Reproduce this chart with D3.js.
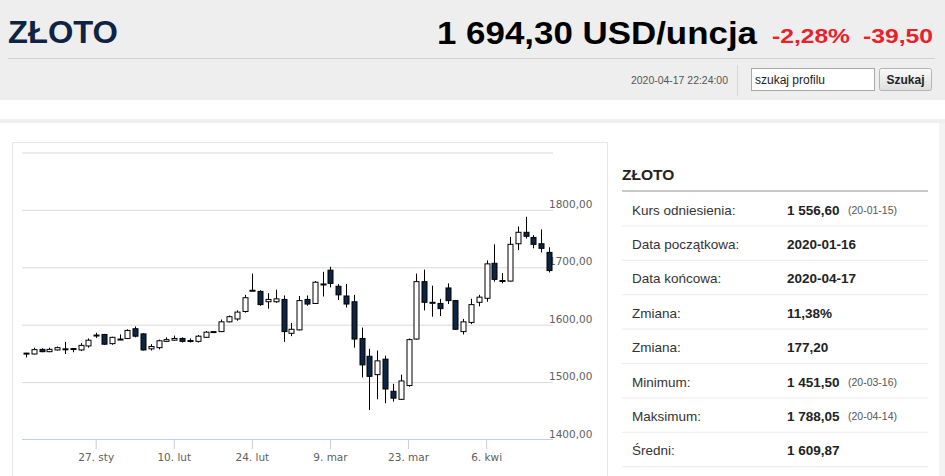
<!DOCTYPE html>
<html>
<head>
<meta charset="utf-8">
<script src="https://cdn.jsdelivr.net/npm/d3@7"></script>
<style>
  body { margin: 0; background: #fff; }
  svg { display: block; font-family: "Liberation Sans", Arial, sans-serif; }
</style>
</head>
<body>
<svg id="page" width="945" height="476"></svg>
<script>
// trading days shown on the chart (Good Friday missing)
const dates = [
  "2020-01-14","2020-01-15","2020-01-16","2020-01-17","2020-01-20","2020-01-21","2020-01-22","2020-01-23","2020-01-24",
  "2020-01-27","2020-01-28","2020-01-29","2020-01-30","2020-01-31",
  "2020-02-03","2020-02-04","2020-02-05","2020-02-06","2020-02-07",
  "2020-02-10","2020-02-11","2020-02-12","2020-02-13","2020-02-14",
  "2020-02-17","2020-02-18","2020-02-19","2020-02-20","2020-02-21",
  "2020-02-24","2020-02-25","2020-02-26","2020-02-27","2020-02-28",
  "2020-03-02","2020-03-03","2020-03-04","2020-03-05","2020-03-06",
  "2020-03-09","2020-03-10","2020-03-11","2020-03-12","2020-03-13",
  "2020-03-16","2020-03-17","2020-03-18","2020-03-19","2020-03-20",
  "2020-03-23","2020-03-24","2020-03-25","2020-03-26","2020-03-27",
  "2020-03-30","2020-03-31","2020-04-01","2020-04-02","2020-04-03",
  "2020-04-06","2020-04-07","2020-04-08","2020-04-09",
  "2020-04-13","2020-04-14","2020-04-15","2020-04-16","2020-04-17"
];

const openVals = [
  1550, 1549, 1557, 1553, 1556, 1557, 1558, 1556, 1563,
  1581, 1583, 1567, 1574, 1576,
  1593, 1584, 1558, 1560, 1571,
  1573, 1576, 1572, 1571, 1578,
  1587, 1588, 1605, 1610, 1623,
  1659, 1658, 1640, 1640, 1644,
  1585, 1591, 1644, 1637, 1670,
  1695, 1667, 1650, 1640, 1576,
  1545, 1513, 1540, 1484, 1470,
  1494, 1575, 1675, 1638, 1637,
  1664, 1642, 1588, 1604, 1639,
  1646, 1707, 1676, 1676,
  1741, 1761, 1752, 1741, 1726
];
const highVals = [
  1551, 1560, 1559, 1560, 1562, 1570, 1559, 1568, 1576,
  1586, 1584, 1579, 1583, 1592,
  1597, 1585, 1566, 1574, 1578,
  1581, 1578, 1576, 1582, 1589,
  1588, 1609, 1616, 1625, 1652,
  1689, 1660, 1655, 1661, 1651,
  1603, 1650, 1651, 1676, 1692,
  1701, 1671, 1671, 1652, 1595,
  1558, 1555, 1546, 1497, 1513,
  1576, 1689, 1696, 1668, 1645,
  1672, 1643, 1610, 1645, 1652,
  1712, 1740, 1690, 1753,
  1771, 1788.05, 1756, 1766, 1735
];
const lowVals = [
  1543, 1548, 1552, 1552, 1555, 1549, 1552, 1554, 1560,
  1577, 1565, 1565, 1574, 1575,
  1578, 1555, 1555, 1557, 1570,
  1572, 1569, 1569, 1569, 1577,
  1586, 1587, 1604, 1607, 1621,
  1658, 1633, 1628, 1638, 1570,
  1580, 1590, 1633, 1636, 1649,
  1665, 1643, 1630, 1560, 1508,
  1451.5, 1470, 1463, 1466, 1469,
  1492, 1574, 1625, 1614, 1615,
  1636, 1591, 1583, 1601, 1632,
  1640, 1675, 1672, 1675,
  1730, 1750, 1733, 1726, 1691
];
const closeVals = [
  1550.5, 1556.6, 1553, 1557, 1560, 1558, 1558.5, 1564, 1573,
  1582, 1566, 1578, 1575, 1590,
  1580, 1556, 1562, 1572, 1574,
  1576, 1571, 1572.5, 1580, 1587,
  1588, 1605, 1614, 1622, 1647,
  1660, 1635, 1644, 1645, 1588,
  1592, 1642, 1636, 1674, 1671,
  1672, 1652, 1636, 1575, 1530,
  1510, 1537, 1488, 1472, 1502,
  1574, 1675, 1639, 1639, 1628,
  1642, 1592, 1605, 1635, 1648,
  1706, 1679, 1677, 1740,
  1761, 1754, 1740, 1733, 1694.3
];

const xTickDates = ["2020-01-27", "2020-02-10", "2020-02-24", "2020-03-09", "2020-03-23", "2020-04-06"];
const xTickLabels = ["27. sty", "10. lut", "24. lut", "9. mar", "23. mar", "6. kwi"];
const yTicks = [1400, 1500, 1600, 1700, 1800];
const yGrid = [1500, 1600, 1700, 1800, 1900];

const statLabels = ["Kurs odniesienia:", "Data początkowa:", "Data końcowa:", "Zmiana:", "Zmiana:", "Minimum:", "Maksimum:", "Średni:"];
const statValues = ["1 556,60", "2020-01-16", "2020-04-17", "11,38%", "177,20", "1 451,50", "1 788,05", "1 609,87"];
const statNotes = ["(20-01-15)", "", "", "", "", "(20-03-16)", "(20-04-14)", ""];

const svg = d3.select("#page");

// ---------- header ----------
svg.append("rect").attr("x", 0).attr("y", 0).attr("width", 945).attr("height", 100).attr("fill", "#eeeeee");
svg.append("line").attr("x1", 8).attr("x2", 935).attr("y1", 58.5).attr("y2", 58.5).attr("stroke", "#d2d2d2");

svg.append("text")
  .attr("x", 8).attr("y", 43)
  .attr("font-size", 32).attr("font-weight", "bold").attr("fill", "#0f2342")
  .attr("textLength", 110).attr("lengthAdjust", "spacingAndGlyphs")
  .text("ZŁOTO");

svg.append("text")
  .attr("x", 437).attr("y", 44)
  .attr("font-size", 31).attr("font-weight", "bold").attr("fill", "#000")
  .attr("textLength", 320).attr("lengthAdjust", "spacingAndGlyphs")
  .text("1 694,30 USD/uncja");

svg.append("text")
  .attr("x", 772).attr("y", 43)
  .attr("font-size", 21).attr("font-weight", "bold").attr("fill", "#e8212b")
  .attr("textLength", 78).attr("lengthAdjust", "spacingAndGlyphs")
  .text("-2,28%");

svg.append("text")
  .attr("x", 863).attr("y", 43)
  .attr("font-size", 21).attr("font-weight", "bold").attr("fill", "#e8212b")
  .attr("textLength", 70).attr("lengthAdjust", "spacingAndGlyphs")
  .text("-39,50");

svg.append("text")
  .attr("x", 631).attr("y", 84)
  .attr("font-size", 11).attr("fill", "#555")
  .attr("textLength", 97).attr("lengthAdjust", "spacingAndGlyphs")
  .text("2020-04-17 22:24:00");

svg.append("line").attr("x1", 737.5).attr("x2", 737.5).attr("y1", 65).attr("y2", 96).attr("stroke", "#d6d6d6");

svg.append("rect").attr("x", 751.5).attr("y", 68.5).attr("width", 123).attr("height", 22)
  .attr("fill", "#fff").attr("stroke", "#a8a8a8");
svg.append("text").attr("x", 755).attr("y", 83.5).attr("font-size", 12).attr("fill", "#222").text("szukaj profilu");

const grad = svg.append("defs").append("linearGradient").attr("id", "btn").attr("x1", 0).attr("x2", 0).attr("y1", 0).attr("y2", 1);
grad.append("stop").attr("offset", "0%").attr("stop-color", "#fafafa");
grad.append("stop").attr("offset", "100%").attr("stop-color", "#dedede");
svg.append("rect").attr("x", 879.5).attr("y", 68.5).attr("width", 52).attr("height", 22).attr("rx", 2)
  .attr("fill", "url(#btn)").attr("stroke", "#b4b4b4");
svg.append("text").attr("x", 905.5).attr("y", 84).attr("text-anchor", "middle")
  .attr("font-size", 12).attr("font-weight", "bold").attr("fill", "#222").text("Szukaj");

// band under header
svg.append("rect").attr("x", 0).attr("y", 119).attr("width", 945).attr("height", 4).attr("fill", "#efefef");
svg.append("rect").attr("x", 939).attr("y", 123).attr("width", 6).attr("height", 353).attr("fill", "#f3f3f3");

// ---------- chart card ----------
svg.append("rect").attr("x", 12.5).attr("y", 142.5).attr("width", 595).attr("height", 360)
  .attr("fill", "#fff").attr("stroke", "#e6e6e6");

const plotLeft = 22, plotRight = 553;

const x = d3.scaleBand()
  .domain(dates)
  .range([plotLeft, plotRight])
  .paddingInner(0.36)
  .paddingOuter(0.18);

const y = d3.scaleLinear()
  .domain([1400, 1900])
  .range([439.5, 152.5]);

const cx = d => x(d) + x.bandwidth() / 2;

// gridlines
const grid = svg.append("g")
  .attr("transform", `translate(${plotLeft},0)`)
  .call(d3.axisLeft(y).tickValues(yGrid).tickSize(-(plotRight - plotLeft)).tickFormat(""));
grid.select(".domain").remove();
grid.selectAll("line").attr("stroke", "#d9d9d9");

// y labels
const yAxis = svg.append("g")
  .attr("transform", "translate(549,0)")
  .call(d3.axisRight(y).tickValues(yTicks).tickSize(0).tickPadding(0)
    .tickFormat(d => d3.format(".2f")(d).replace(".", ",")));
yAxis.select(".domain").remove();
yAxis.selectAll("text")
  .attr("dy", null).attr("y", -2.5)
  .attr("font-family", "DejaVu Sans, Verdana, sans-serif")
  .attr("font-size", 10.5).attr("fill", "#606060");

// x axis
const xAxis = svg.append("g")
  .attr("transform", "translate(0,439.5)")
  .call(d3.axisBottom(x).tickValues(xTickDates).tickSize(9.5).tickPadding(5)
    .tickFormat(d => xTickLabels[xTickDates.indexOf(d)]));
xAxis.select(".domain").attr("stroke", "#c0d0e0").attr("d", `M${plotLeft},0H${plotRight}`);
xAxis.selectAll("line").attr("stroke", "#c0d0e0");
xAxis.selectAll("text")
  .attr("font-family", "DejaVu Sans, Verdana, sans-serif")
  .attr("font-size", 10.5).attr("fill", "#606060");

// candles
const candles = dates.map((d, i) => ({
  date: d, open: openVals[i], high: highVals[i], low: lowVals[i], close: closeVals[i]
}));

const g = svg.append("g").attr("class", "candles");

g.selectAll(".wick")
  .data(candles)
  .enter()
  .append("line")
  .attr("class", "wick")
  .attr("x1", d => Math.round(cx(d.date)) + 0.5)
  .attr("x2", d => Math.round(cx(d.date)) + 0.5)
  .attr("y1", d => y(d.high))
  .attr("y2", d => y(d.low))
  .attr("stroke", "#000")
  .attr("stroke-width", 1);

g.selectAll(".body")
  .data(candles)
  .enter()
  .append("rect")
  .attr("class", "body")
  .attr("x", d => Math.round(cx(d.date)) - 2)
  .attr("width", 5)
  .attr("y", d => y(Math.max(d.open, d.close)))
  .attr("height", d => Math.max(1, Math.abs(y(d.open) - y(d.close))))
  .attr("fill", d => d.close >= d.open ? "#ffffff" : "#0c2545")
  .attr("stroke", "#000")
  .attr("stroke-width", 1);

// ---------- side panel ----------
svg.append("text").attr("x", 622).attr("y", 180)
  .attr("font-size", 15.5).attr("font-weight", "bold").attr("fill", "#222").text("ZŁOTO");
svg.append("rect").attr("x", 622).attr("y", 190).attr("width", 306).attr("height", 2).attr("fill", "#c8c8c8");

const rowH = 34.4, rowTop = 192;
const rows = svg.append("g").selectAll("g")
  .data(statLabels)
  .enter()
  .append("g")
  .attr("transform", (d, i) => `translate(0,${rowTop + i * rowH})`);

rows.append("line")
  .attr("x1", 622).attr("x2", 928)
  .attr("y1", rowH - 0.5).attr("y2", rowH - 0.5)
  .attr("stroke", "#ececec");

rows.append("text")
  .attr("x", 632).attr("y", 22.5)
  .attr("font-size", 13.5).attr("fill", "#333")
  .text(d => d);

rows.append("text")
  .attr("x", 787).attr("y", 22.5)
  .attr("font-size", 13.5).attr("font-weight", "bold").attr("fill", "#222")
  .text((d, i) => statValues[i]);

rows.append("text")
  .attr("x", 848).attr("y", 22)
  .attr("font-size", 10.5).attr("fill", "#555")
  .text((d, i) => statNotes[i]);
</script>
</body>
</html>
